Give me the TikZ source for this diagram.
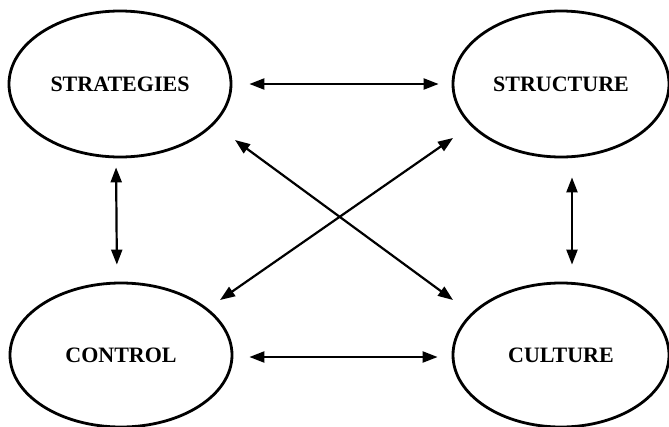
\documentclass[tikz,border=0pt]{standalone}
\usepackage{fontspec}
\setmainfont{Liberation Serif}
\usetikzlibrary{arrows.meta,shapes.geometric}
\begin{document}
\begin{tikzpicture}[x=1pt,y=-1pt,
  oval/.style={draw=black, line width=2.8pt, ellipse, inner sep=0pt,
    font=\fontsize{22}{25}\selectfont\bfseries},
  arr/.style={line width=2.2pt, {Triangle[length=15pt,width=11pt]}-{Triangle[length=15pt,width=11pt]}}]
\useasboundingbox (0,0) rectangle (669,426);
\node[oval, minimum width=222pt, minimum height=146pt] (s) at (120,84) {STRATEGIES};
\node[oval, minimum width=216pt, minimum height=146pt] (t) at (561,84) {STRUCTURE};
\node[oval, minimum width=222pt, minimum height=144pt] (c) at (121,355) {CONTROL};
\node[oval, minimum width=216pt, minimum height=144pt] (u) at (561,355) {CULTURE};
\draw[arr, shorten <=17pt, shorten >=13pt] (s.east) -- (t.west);
\draw[arr, shorten <=16pt, shorten >=14pt] ([yshift=-2pt]c.east) -- ([yshift=-2pt]u.west);
\draw[arr, shorten <=9pt, shorten >=17pt] ([xshift=-4pt]s.south) -- ([xshift=-4pt]c.north);
\draw[arr, shorten <=19pt, shorten >=17pt] ([xshift=11pt]t.south) -- ([xshift=11pt]u.north);
\draw[arr] ([shift={(115,56)}]s.center) -- ([shift={(-108,-55)}]u.center);
\draw[arr] ([shift={(99,-55)}]c.center) -- ([shift={(-108,54)}]t.center);
\end{tikzpicture}
\end{document}
